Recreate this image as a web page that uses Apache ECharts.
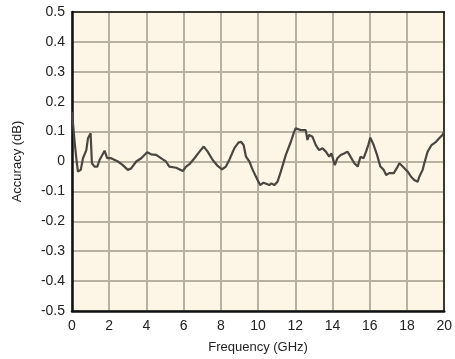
<!DOCTYPE html>
<html>
<head>
<meta charset="utf-8">
<script src="https://cdn.jsdelivr.net/npm/echarts@6/dist/echarts.min.js"></script>
<style>
html,body{margin:0;padding:0;background:#fff;}
#c{width:455px;height:359px;}
</style>
</head>
<body>
<div id="c"></div>
<script>
const xTicks = [0, 2, 4, 6, 8, 10, 12, 14, 16, 18, 20];
const yTicks = [-0.5, -0.4, -0.3, -0.2, -0.1, 0, 0.1, 0.2, 0.3, 0.4, 0.5];
const frequencyGHz = [0.0, 0.05, 0.15, 0.25, 0.32, 0.47, 0.59, 0.77, 0.86, 1.0, 1.07, 1.21, 1.36, 1.48, 1.75, 1.89, 2.1, 2.47, 2.73, 3.0, 3.18, 3.45, 3.72, 4.04, 4.25, 4.52, 4.61, 4.88, 5.05, 5.23, 5.6, 5.95, 6.13, 6.31, 6.58, 6.85, 7.08, 7.29, 7.56, 7.83, 8.06, 8.27, 8.45, 8.72, 8.94, 9.08, 9.22, 9.35, 9.53, 9.71, 9.97, 10.11, 10.29, 10.47, 10.6, 10.72, 10.87, 11.04, 11.22, 11.49, 11.76, 11.94, 12.02, 12.29, 12.56, 12.65, 12.74, 12.92, 13.1, 13.28, 13.46, 13.64, 13.82, 13.94, 14.12, 14.26, 14.44, 14.62, 14.8, 14.91, 15.17, 15.35, 15.5, 15.67, 15.8, 15.92, 16.03, 16.21, 16.39, 16.57, 16.75, 16.88, 17.05, 17.29, 17.5, 17.59, 17.77, 18.04, 18.22, 18.39, 18.57, 18.66, 18.84, 18.93, 19.11, 19.32, 19.56, 19.73, 19.91, 20.0];
const accuracyDB = [0.165, 0.16, 0.06, 0.0, -0.034, -0.028, 0.011, 0.038, 0.078, 0.094, -0.006, -0.017, -0.017, 0.005, 0.036, 0.011, 0.011, 0.0, -0.012, -0.028, -0.023, 0.0, 0.011, 0.031, 0.024, 0.022, 0.016, 0.007, 0.0, -0.017, -0.021, -0.032, -0.017, -0.009, 0.011, 0.033, 0.05, 0.033, 0.005, -0.015, -0.026, -0.017, 0.005, 0.044, 0.063, 0.066, 0.055, 0.016, 0.0, -0.028, -0.062, -0.079, -0.071, -0.075, -0.079, -0.073, -0.079, -0.068, -0.034, 0.022, 0.066, 0.1, 0.111, 0.105, 0.105, 0.072, 0.089, 0.083, 0.055, 0.038, 0.044, 0.033, 0.016, 0.027, -0.012, 0.011, 0.022, 0.027, 0.033, 0.022, -0.006, -0.017, 0.016, 0.011, 0.033, 0.055, 0.08, 0.055, 0.022, -0.017, -0.028, -0.045, -0.039, -0.039, -0.017, -0.006, -0.017, -0.034, -0.051, -0.062, -0.068, -0.051, -0.028, -0.006, 0.033, 0.055, 0.066, 0.078, 0.089, 0.1];

const FONT = 'Liberation Sans';
const chart = echarts.init(document.getElementById('c'), null, {renderer: 'canvas'});
const points = frequencyGHz.map((f, i) => [f, accuracyDB[i]]);
const gridCol = '#b8b19f';
chart.setOption({
  animation: false,
  grid: {left: 72, right: 9, top: 12, bottom: 48, show: true, backgroundColor: '#fdf6e6', borderWidth: 0},
  xAxis: [{
    type: 'value', min: xTicks[0], max: xTicks[xTicks.length - 1], interval: 2,
    name: 'Frequency (GHz)', nameLocation: 'middle', nameGap: 30,
    nameTextStyle: {fontFamily: FONT, fontSize: 13, color: '#222'},
    axisLine: {show: true, onZero: false, lineStyle: {color: '#111', width: 2.5}},
    axisTick: {show: false},
    axisLabel: {fontFamily: FONT, fontSize: 14, color: '#222', margin: 8,
      formatter: v => xTicks.includes(v) ? String(v) : ''},
    splitLine: {show: true, lineStyle: {color: gridCol, width: 2}}
  }, {
    type: 'value', position: 'top', min: 0, max: 20,
    axisLine: {show: true, onZero: false, lineStyle: {color: '#111', width: 1.5}},
    axisTick: {show: false}, axisLabel: {show: false}, splitLine: {show: false}
  }],
  yAxis: [{
    type: 'value', min: yTicks[0], max: yTicks[yTicks.length - 1], interval: 0.1,
    name: 'Accuracy (dB)', nameLocation: 'middle', nameGap: 48, nameRotate: 90,
    nameTextStyle: {fontFamily: FONT, fontSize: 13, color: '#222'},
    axisLine: {show: true, onZero: false, lineStyle: {color: '#111', width: 2.5}},
    axisTick: {show: false},
    axisLabel: {fontFamily: FONT, fontSize: 14, color: '#222', margin: 7,
      formatter: v => { const r = Math.round(v * 10) / 10; return r === 0 ? '0' : r.toFixed(1); }},
    splitLine: {show: true, lineStyle: {color: gridCol, width: 2}}
  }, {
    type: 'value', position: 'right', min: -0.5, max: 0.5,
    axisLine: {show: true, onZero: false, lineStyle: {color: '#111', width: 1.5}},
    axisTick: {show: false}, axisLabel: {show: false}, splitLine: {show: false}
  }],
  series: [{
    type: 'line', data: points, showSymbol: false, symbol: 'none',
    lineStyle: {color: '#4a4640', width: 2.2}, z: 5
  }]
});
</script>
</body>
</html>
